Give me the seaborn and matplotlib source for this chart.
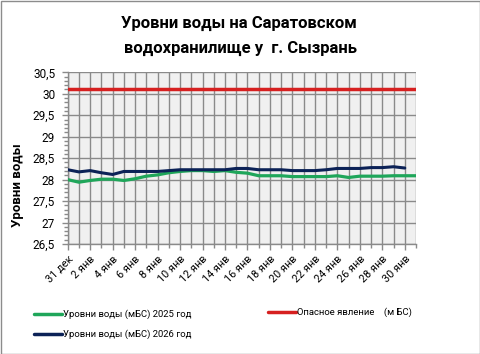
import matplotlib
matplotlib.use("Agg")
import matplotlib.pyplot as plt
import seaborn as sns
import pandas as pd
from matplotlib.lines import Line2D
from matplotlib.patches import Rectangle
from matplotlib.ticker import FixedLocator, MultipleLocator, FuncFormatter

dates = ["31 дек", "1 янв", "2 янв", "3 янв", "4 янв", "5 янв", "6 янв", "7 янв",
         "8 янв", "9 янв", "10 янв", "11 янв", "12 янв", "13 янв", "14 янв", "15 янв",
         "16 янв", "17 янв", "18 янв", "19 янв", "20 янв", "21 янв", "22 янв", "23 янв",
         "24 янв", "25 янв", "26 янв", "27 янв", "28 янв", "29 янв", "30 янв", "31 янв"]

level_2025 = [28.00, 27.94, 27.98, 28.01, 28.01, 27.98, 28.02, 28.08, 28.11, 28.16,
              28.19, 28.21, 28.21, 28.19, 28.21, 28.17, 28.15, 28.09, 28.09, 28.09,
              28.07, 28.07, 28.07, 28.07, 28.09, 28.05, 28.08, 28.08, 28.08, 28.09,
              28.09, 28.09]

level_2026 = [28.23, 28.18, 28.21, 28.16, 28.12, 28.19, 28.19, 28.19, 28.19, 28.21,
              28.23, 28.23, 28.23, 28.23, 28.23, 28.26, 28.26, 28.23, 28.23, 28.23,
              28.21, 28.21, 28.21, 28.23, 28.26, 28.26, 28.26, 28.28, 28.28, 28.30,
              28.27]

danger_level = 30.1

y_ticks = [26.5, 27, 27.5, 28, 28.5, 29, 29.5, 30, 30.5]

labels = ["Уровни воды (мБС) 2025 год", "Уровни воды (мБС) 2026 год",
          "Опасное явление    (м БС)"]
title_lines = ["Уровни воды на Саратовском", "водохранилище у  г. Сызрань"]
ylabel = "Уровни воды"

sns.set_style("white")
plt.rcParams['font.family'] = ['Roboto', 'DejaVu Sans']
for k in ["text.color", "axes.labelcolor", "xtick.color", "ytick.color"]:
    plt.rcParams[k] = "black"

df25 = pd.DataFrame({"x": range(len(level_2025)), "y": level_2025})
df26 = pd.DataFrame({"x": range(len(level_2026)), "y": level_2026})
dfd = pd.DataFrame({"x": range(len(dates)), "y": [danger_level] * len(dates)})

fig = plt.figure(figsize=(4.81, 3.54), dpi=100)
ax = fig.add_axes([0.1407, 0.3107, 0.7242, 0.4851])
ax.set_facecolor("#f0f0f0")

c25, c26, cd = "#1fa65a", "#0c2257", "#d62020"
sns.lineplot(data=dfd, x="x", y="y", ax=ax, color=cd, linewidth=2.5, zorder=3)
sns.lineplot(data=df25, x="x", y="y", ax=ax, color=c25, linewidth=2.3, zorder=4)
sns.lineplot(data=df26, x="x", y="y", ax=ax, color=c26, linewidth=2.2, zorder=5)

ax.set_xlim(0, len(dates) - 1)
ax.set_ylim(y_ticks[0], y_ticks[-1])
ax.yaxis.set_major_locator(FixedLocator(y_ticks))
ax.yaxis.set_minor_locator(MultipleLocator(0.1))
ax.yaxis.set_major_formatter(FuncFormatter(lambda v, p: f"{v:g}".replace(".", ",")))
ax.xaxis.set_major_locator(FixedLocator(list(range(0, len(dates), 2))))
ax.xaxis.set_minor_locator(MultipleLocator(1))
ax.set_xticklabels(dates[::2], rotation=45, ha="right", rotation_mode="anchor",
                   fontsize=7.8)
for t in ax.get_yticklabels():
    t.set_fontsize(8.5)
ax.grid(True, which="major", axis="y", color="#8a8a8a", linewidth=1)
ax.grid(True, which="both", axis="x", color="#8a8a8a", linewidth=1)
ax.set_axisbelow(True)
ax.tick_params(axis="both", which="both", direction="out", color="#8a8a8a",
               left=True, bottom=True)
ax.tick_params(axis="both", which="major", length=4, width=1)
ax.tick_params(axis="both", which="minor", length=3, width=1)
ax.tick_params(axis="y", which="major", pad=5)
ax.tick_params(axis="x", which="major", pad=3)
for s in ["top", "right"]:
    ax.spines[s].set_visible(False)
for s in ["left", "bottom"]:
    ax.spines[s].set_color("#8a8a8a")
    ax.spines[s].set_linewidth(1)
ax.set_xlabel("")
ax.set_ylabel("")

fig.text(239 / 481, 1 - 23 / 354, title_lines[0], ha="center", va="center",
         fontsize=12, fontweight="bold")
fig.text(241 / 481, 1 - 48 / 354, title_lines[1], ha="center", va="center",
         fontsize=12, fontweight="bold")
fig.text(18 / 481, 1 - 185 / 354, ylabel, rotation=90, ha="center", va="center",
         fontsize=9.5, fontweight="bold")

h25 = Line2D([], [], color=c25, linewidth=2.5)
h26 = Line2D([], [], color=c26, linewidth=2.5)
hd = Line2D([], [], color=cd, linewidth=2.5)
leg_kw = dict(frameon=False, fontsize=6.8, handlelength=3.0, handletextpad=0.05,
              borderpad=0, borderaxespad=0, labelspacing=1.07)
leg1 = fig.legend([h25, h26], labels[:2], loc="center left",
                  bbox_to_anchor=(34 / 481, 1 - 324.5 / 354), **leg_kw)
leg2 = fig.legend([hd], labels[2:], loc="center left",
                  bbox_to_anchor=(268 / 481, 1 - 312.5 / 354), **leg_kw)

fig.add_artist(Rectangle((0.5 / 481, 0.5 / 354), 479.5 / 481, 352.5 / 354,
                         transform=fig.transFigure, fill=False,
                         edgecolor="#8c8c8c", linewidth=1))

fig.savefig("out.png", dpi=100)
